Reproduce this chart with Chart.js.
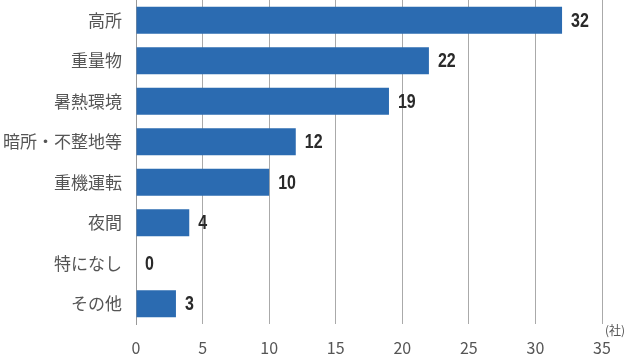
<!DOCTYPE html>
<html><head><meta charset="utf-8">
<script src="https://cdn.jsdelivr.net/npm/chart.js@4/dist/chart.umd.min.js"></script>
<style>html,body{margin:0;padding:0;background:#fff}#wrap{width:640px;height:355px;position:relative}</style>
</head><body><div id="wrap"><canvas id="c" width="640" height="355"></canvas></div>
<script>
const categories = ['高所','重量物','暑熱環境','暗所・不整地等','重機運転','夜間','特になし','その他'];
const values = [32,22,19,12,10,4,0,3];
const xTicks = [0,5,10,15,20,25,30,35];
const unitLabel = '(社)';

const labelPlugin = {
  id:'vals',
  afterDatasetsDraw(chart){
    const ctx = chart.ctx;
    const meta = chart.getDatasetMeta(0);
    ctx.save();
    ctx.font = 'bold 20px "Liberation Sans",sans-serif';
    ctx.fillStyle = '#2a2a2a';
    ctx.textBaseline = 'middle';
    ctx.textAlign = 'left';
    const sx = 0.8;
    meta.data.forEach((bar,i)=>{
      ctx.save();
      ctx.translate(bar.x + 9, bar.y + 1);
      ctx.scale(sx,1);
      ctx.fillText(String(values[i]), 0, 0);
      ctx.restore();
    });
    const xs = chart.scales.x;
    ctx.font = '12px "Noto Sans CJK JP",sans-serif';
    ctx.fillStyle = '#555';
    ctx.fillText(unitLabel, xs.getPixelForValue(35) + 3, chart.chartArea.bottom + 6);
    ctx.restore();
  }
};

new Chart(document.getElementById('c'),{
  type:'bar',
  data:{labels:categories,datasets:[{data:values,backgroundColor:'#2b6bb1',borderWidth:0,categoryPercentage:1,barPercentage:0.67}]},
  options:{
    indexAxis:'y',responsive:false,animation:false,
    layout:{padding:{top:0,right:38,bottom:0,left:0}},
    plugins:{legend:{display:false},tooltip:{enabled:false}},
    scales:{
      x:{min:0,max:35,
        afterBuildTicks(s){s.ticks = xTicks.map(v=>({value:v}));},
        afterFit(s){s.height=31;},
        grid:{color:'#aaa',lineWidth:1,drawTicks:false},
        border:{display:false},
        ticks:{padding:14,color:'#555',font:{family:'"Noto Sans CJK JP",sans-serif',size:16}}
      },
      y:{
        afterFit(s){s.width=136;s.paddingTop=0;s.paddingBottom=0;},
        grid:{display:false,drawTicks:false},
        border:{display:true,color:'#999',width:1},
        ticks:{padding:14,color:'#555',font:{family:'"Noto Sans CJK JP",sans-serif',size:17}}
      }
    }
  },
  plugins:[labelPlugin]
});
</script></body></html>
